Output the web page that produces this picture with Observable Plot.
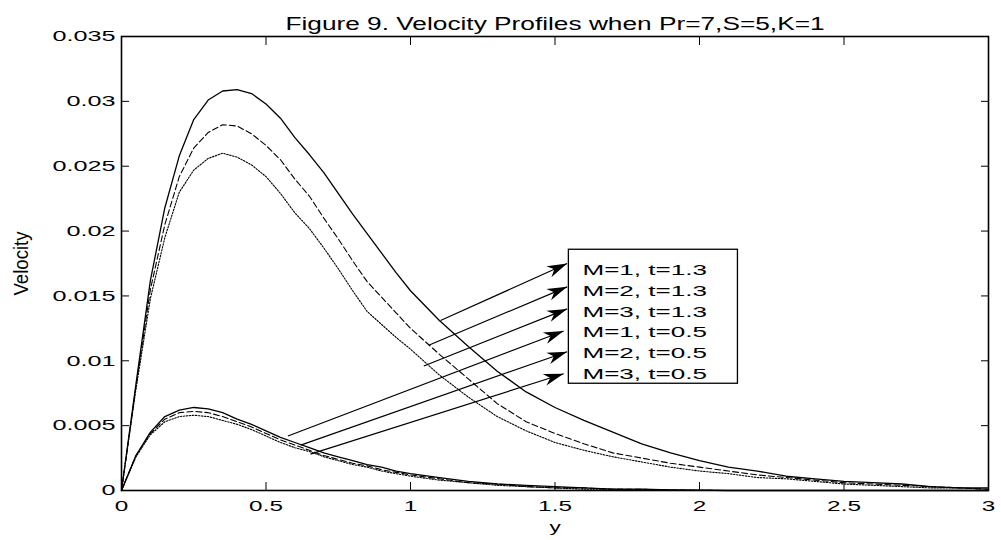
<!DOCTYPE html>
<html><head><meta charset="utf-8">
<script src="https://cdn.jsdelivr.net/npm/d3@7"></script>
<script src="https://cdn.jsdelivr.net/npm/@observablehq/plot@0.6"></script>
<style>
body{margin:0;background:#fff}
svg{font-family:Arial,"Liberation Sans",Helvetica,sans-serif}
</style>
</head><body><div id="chart"></div>
<script>
// ---- data ----
const titleText = "Figure 9. Velocity Profiles when Pr=7,S=5,K=1";
const xLabel = "y";
const yLabel = "Velocity";
const xTicks = [0, 0.5, 1, 1.5, 2, 2.5, 3];
const xTickLabels = ["0", "0.5", "1", "1.5", "2", "2.5", "3"];
const yTicks = [0, 0.005, 0.01, 0.015, 0.02, 0.025, 0.03, 0.035];
const yTickLabels = ["0", "0.005", "0.01", "0.015", "0.02", "0.025", "0.03", "0.035"];

const yPos = [0,0.05,0.1,0.15,0.2,0.25,0.3,0.35,0.4,0.45,0.5,0.55,0.6,0.65,0.7,0.75,0.8,0.85,0.9,0.95,1.0,
  1.1,1.2,1.3,1.4,1.5,1.6,1.7,1.8,1.9,2.0,2.1,2.2,2.3,2.4,2.5,2.6,2.7,2.8,2.9,3.0];

const vM1t13 = [0,0.0082,0.0162,0.0218,0.0258,0.0286,0.0301,0.0308,0.0309,0.0306,0.0298,0.0287,0.0272,0.0259,0.0245,0.0229,0.0213,0.0198,0.0183,0.0168,0.0154,
  0.0131,0.0111,0.0092,0.0076,0.0064,0.0054,0.0045,0.0036,0.0029,0.0023,0.0018,0.0015,0.0011,0.0009,0.0007,0.0006,0.0005,0.0003,0.0002,0.0002];
const vM2t13 = [0,0.0080,0.0155,0.0205,0.0242,0.0264,0.0276,0.0282,0.0281,0.0275,0.0266,0.0255,0.0240,0.0227,0.0210,0.0194,0.0177,0.0161,0.0149,0.0137,0.0125,
  0.0105,0.0086,0.0067,0.0053,0.0044,0.0036,0.0029,0.0025,0.0021,0.0018,0.0015,0.0012,0.0010,0.0008,0.0006,0.0005,0.0004,0.0003,0.0002,0.0001];
const vM3t13 = [0,0.0078,0.0148,0.0195,0.0230,0.0247,0.0256,0.0260,0.0257,0.0251,0.0242,0.0229,0.0214,0.0202,0.0187,0.0171,0.0154,0.0138,0.0128,0.0118,0.0109,
  0.0089,0.0072,0.0057,0.0046,0.0037,0.0031,0.0026,0.0022,0.0018,0.0015,0.0013,0.0010,0.0009,0.0007,0.0005,0.0004,0.0003,0.0002,0.0002,0.0001];
const vM1t05 = [0,0.0027,0.0045,0.0057,0.0062,0.0064,0.0063,0.0060,0.0055,0.0051,0.0046,0.0041,0.0037,0.0033,0.0029,0.0026,0.0023,0.0020,0.0018,0.0015,0.0013,
  0.0010,0.0007,0.0005,0.0004,0.0003,0.0002,0.0001,0.0001,0.00005,0.00003,0,0,0,0,0,0,0,0,0,0];
const vM2t05 = [0,0.0027,0.0044,0.0055,0.0060,0.0061,0.0060,0.0057,0.0053,0.0049,0.0044,0.0039,0.0035,0.0031,0.0027,0.0024,0.0021,0.0019,0.0016,0.0014,0.0012,
  0.0009,0.0006,0.0005,0.0003,0.0002,0.0002,0.0001,0.0001,0.00004,0.00002,0,0,0,0,0,0,0,0,0,0];
const vM3t05 = [0,0.0026,0.0043,0.0053,0.0057,0.0058,0.0057,0.0054,0.0051,0.0047,0.0042,0.0037,0.0033,0.0030,0.0026,0.0023,0.0020,0.0018,0.0015,0.0013,0.0011,
  0.0008,0.0006,0.0004,0.0003,0.0002,0.0001,0.0001,0.00005,0.00003,0.00001,0,0,0,0,0,0,0,0,0,0];

const seriesLabels = ["M=1, t=1.3", "M=2, t=1.3", "M=3, t=1.3", "M=1, t=0.5", "M=2, t=0.5", "M=3, t=0.5"];
const seriesM = [1, 2, 3, 1, 2, 3];
const seriesT = [1.3, 1.3, 1.3, 0.5, 0.5, 0.5];
const seriesValues = [vM1t13, vM2t13, vM3t13, vM1t05, vM2t05, vM3t05];

// annotation arrows (data coordinates): curve point -> legend entry
const arrowX1 = [1.104, 1.063, 1.046, 0.576, 0.620, 0.654];
const arrowY1 = [0.0131, 0.0112, 0.0096, 0.0042, 0.0035, 0.0028];
const arrowX2 = [1.542, 1.542, 1.542, 1.530, 1.542, 1.530];
const arrowY2 = [0.0175, 0.0157, 0.0140, 0.0123, 0.0107, 0.0090];

// legend box (data coordinates)
const legendBoxX = [1.548, 2.133];
const legendBoxY = [0.00823, 0.01856];
const legendTextX = 1.595;
const legendTextY = [0.01696, 0.01537, 0.01378, 0.01218, 0.01059, 0.00900];

// ---- build tables ----
const rows = [];
seriesValues.forEach((vals, s) => vals.forEach((v, i) => rows.push({y: yPos[i], v, M: seriesM[s], t: seriesT[s], name: seriesLabels[s]})));
const arrows = arrowX1.map((_, i) => ({x1: arrowX1[i], y1: arrowY1[i], x2: arrowX2[i], y2: arrowY2[i]}));
const legendRows = seriesLabels.map((label, i) => ({label, y: legendTextY[i]}));

const dashFor = {1: null, 2: "6,3", 3: "1.5,1.5"};

const lineMarks = [1, 2, 3].map(m => Plot.line(rows.filter(d => d.M === m), {
  x: "y", y: "v", z: "t", stroke: "#000", strokeWidth: m === 1 ? 1.3 : 1.1,
  strokeDasharray: dashFor[m]
}));

const plot = Plot.plot({
  width: 1001, height: 540,
  marginLeft: 121, marginRight: 13, marginTop: 36, marginBottom: 50,
  style: {background: "#fff", color: "#000", fontFamily: "Arial, 'Liberation Sans', Helvetica, sans-serif", overflow: "visible"},
  x: {domain: [0, 3]},
  y: {domain: [0, 0.035]},
  marks: [
    ...lineMarks,
    Plot.link(arrows, {x1: "x1", y1: "y1", x2: "x2", y2: "y2", stroke: "#000", strokeWidth: 1.2}),
    Plot.rect([{}], {x1: () => legendBoxX[0], x2: () => legendBoxX[1], y1: () => legendBoxY[0], y2: () => legendBoxY[1], fill: "#fff", stroke: "#000", strokeWidth: 1.3}),
    Plot.text(legendRows, {x: () => legendTextX, y: "y", text: "label", textAnchor: "start", fontSize: 15.5, fill: "#000"}),
    Plot.frame({stroke: "#000", strokeWidth: 1.6}),
    Plot.axisX({ticks: xTicks, tickSize: -8, tickPadding: 18, fontSize: 15, labelArrow: "none",
      tickFormat: d => xTickLabels[xTicks.indexOf(d)], label: xLabel, labelAnchor: "center", labelOffset: 41}),
    Plot.axisX({anchor: "top", ticks: xTicks, tickSize: -8, tickFormat: () => "", label: null}),
    Plot.axisY({ticks: yTicks, tickSize: -8, tickPadding: 14, fontSize: 15, labelArrow: "none",
      tickFormat: d => yTickLabels[yTicks.indexOf(d)], label: yLabel, labelAnchor: "center", labelOffset: 108}),
    Plot.axisY({anchor: "right", ticks: yTicks, tickSize: -8, tickFormat: () => "", label: null}),
    Plot.text([titleText], {frameAnchor: "top", dy: -19, fontSize: 17.5, fill: "#000"})
  ]
});

document.getElementById("chart").appendChild(plot);

const svg = d3.select(plot);

// remove any label arrows that this Plot build may add
svg.selectAll("g[aria-label='x-axis label'] text, g[aria-label='y-axis label'] text").each(function(){
  const s = this.textContent.replace(/[\u2190-\u2193]/g, "").trim();
  if (s !== this.textContent) this.textContent = s;
});

// filled notched arrowheads (MATLAB-like)
const defs = svg.insert("defs", ":first-child");
defs.append("marker").attr("id", "ahead").attr("markerUnits", "userSpaceOnUse")
  .attr("viewBox", "-21 -7 22 14").attr("markerWidth", 22).attr("markerHeight", 14)
  .attr("refX", 0).attr("refY", 0).attr("orient", "auto")
  .append("path").attr("d", "M0,0L-20,-6L-14,0L-20,6Z").attr("fill", "#000");
svg.selectAll("g[aria-label='link'] path").attr("marker-end", "url(#ahead)");

// horizontal stretch of text (matches reference aspect)
function setLen(t, f) {
  const L = t.getComputedTextLength();
  if (L > 0) { t.setAttribute("textLength", L * f); t.setAttribute("lengthAdjust", "spacingAndGlyphs"); }
}
plot.querySelectorAll("g[aria-label='x-axis tick label'] text").forEach(t => setLen(t, 1.62));
plot.querySelectorAll("g[aria-label='y-axis tick label'] text").forEach(t => setLen(t, 1.68));
plot.querySelectorAll("g[aria-label='x-axis label'] text").forEach(t => setLen(t, 1.5));
plot.querySelectorAll("g[aria-label='text'] text").forEach(t => {
  if (t.textContent === titleText) setLen(t, 1.5);
  else if (seriesLabels.includes(t.textContent)) setLen(t, 1.68);
});
plot.querySelectorAll("g[aria-label='y-axis label'] text").forEach(t => {
  t.setAttribute("font-size", 20);
  t.setAttribute("textLength", 64); t.setAttribute("lengthAdjust", "spacingAndGlyphs");
});
</script>
</body></html>
